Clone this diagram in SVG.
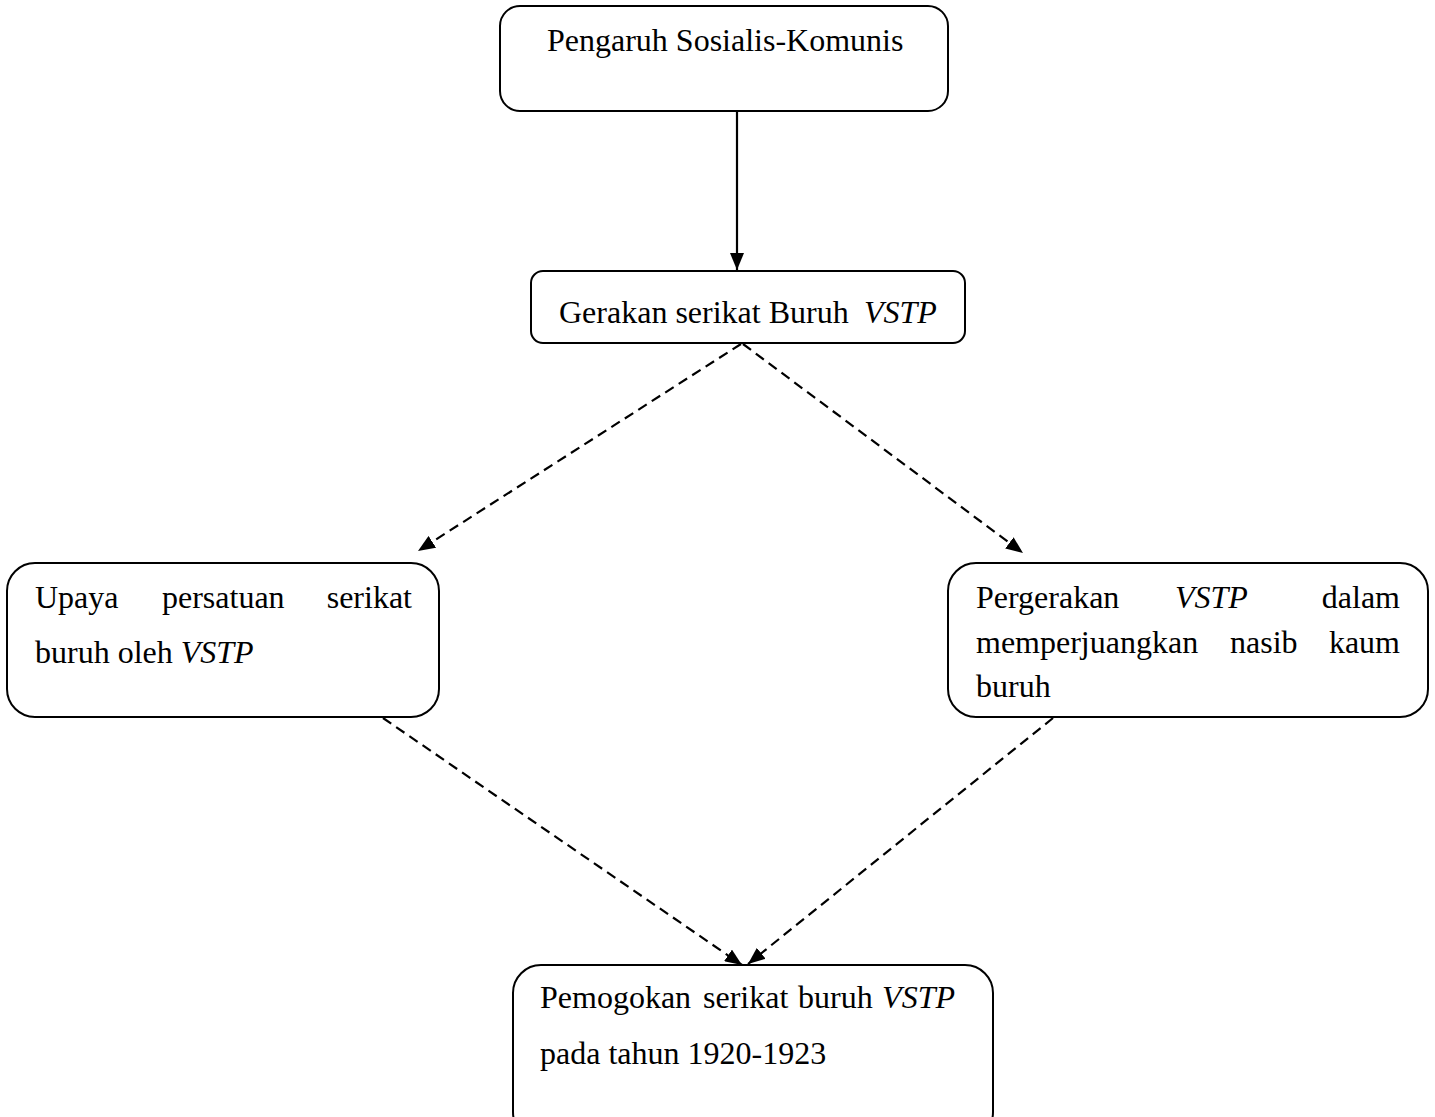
<svg xmlns="http://www.w3.org/2000/svg" width="1435" height="1117" viewBox="0 0 1435 1117">
<style>
.box{fill:#fff;stroke:#000;stroke-width:2}
.t{font-family:"Liberation Serif","Times New Roman",serif;font-size:32px;fill:#000}
.i{font-style:italic}
.e{text-anchor:end}
.solid{stroke:#000;stroke-width:2.2;fill:none}
.dash{stroke:#000;stroke-width:2.2;fill:none;stroke-dasharray:10 6}
</style>
<defs>
<marker id="ah2" viewBox="0 0 12 10" refX="12" refY="5" markerWidth="17" markerHeight="14" markerUnits="userSpaceOnUse" orient="auto" preserveAspectRatio="none">
<path d="M0,0 L12,5 L0,10 z" fill="#000"/>
</marker>
</defs>
<rect width="1435" height="1117" fill="#fff"/>
<g id="connectors">
<line class="solid" x1="737" y1="111" x2="737" y2="270" marker-end="url(#ah2)"/>
<line class="dash" x1="741" y1="344" x2="418" y2="551" marker-end="url(#ah2)"/>
<line class="dash" x1="743" y1="344" x2="1023" y2="553" marker-end="url(#ah2)"/>
<line class="dash" x1="383" y1="718" x2="742" y2="965" marker-end="url(#ah2)"/>
<line class="dash" x1="1053" y1="718" x2="748" y2="964" marker-end="url(#ah2)"/>
</g>
<g id="n1">
<rect class="box" x="500" y="6" width="448" height="105" rx="20"/>
<text class="t" x="547" y="51">Pengaruh Sosialis-Komunis</text>
</g>
<g id="n2">
<rect class="box" x="531" y="271" width="434" height="72" rx="12"/>
<text class="t" x="559" y="323">Gerakan serikat Buruh</text>
<text class="t i" x="864" y="323">VSTP</text>
</g>
<g id="n3">
<rect class="box" x="7" y="563" width="432" height="154" rx="28"/>
<text class="t" x="35" y="608">Upaya</text>
<text class="t" x="162" y="608">persatuan</text>
<text class="t e" x="412" y="608">serikat</text>
<text class="t" x="35" y="663">buruh oleh <tspan class="i">VSTP</tspan></text>
</g>
<g id="n4">
<rect class="box" x="948" y="563" width="480" height="154" rx="28"/>
<text class="t" x="976" y="608">Pergerakan</text>
<text class="t i" x="1175" y="608">VSTP</text>
<text class="t e" x="1400" y="608">dalam</text>
<text class="t" x="976" y="653">memperjuangkan</text>
<text class="t" x="1230" y="653">nasib</text>
<text class="t e" x="1400" y="653">kaum</text>
<text class="t" x="976" y="697">buruh</text>
</g>
<g id="n5">
<rect class="box" x="513" y="965" width="480" height="175" rx="28"/>
<text class="t" x="540" y="1008">Pemogokan</text>
<text class="t" x="703" y="1008">serikat</text>
<text class="t" x="798" y="1008">buruh</text>
<text class="t i e" x="955" y="1008">VSTP</text>
<text class="t" x="540" y="1064">pada tahun 1920-1923</text>
</g>
</svg>
